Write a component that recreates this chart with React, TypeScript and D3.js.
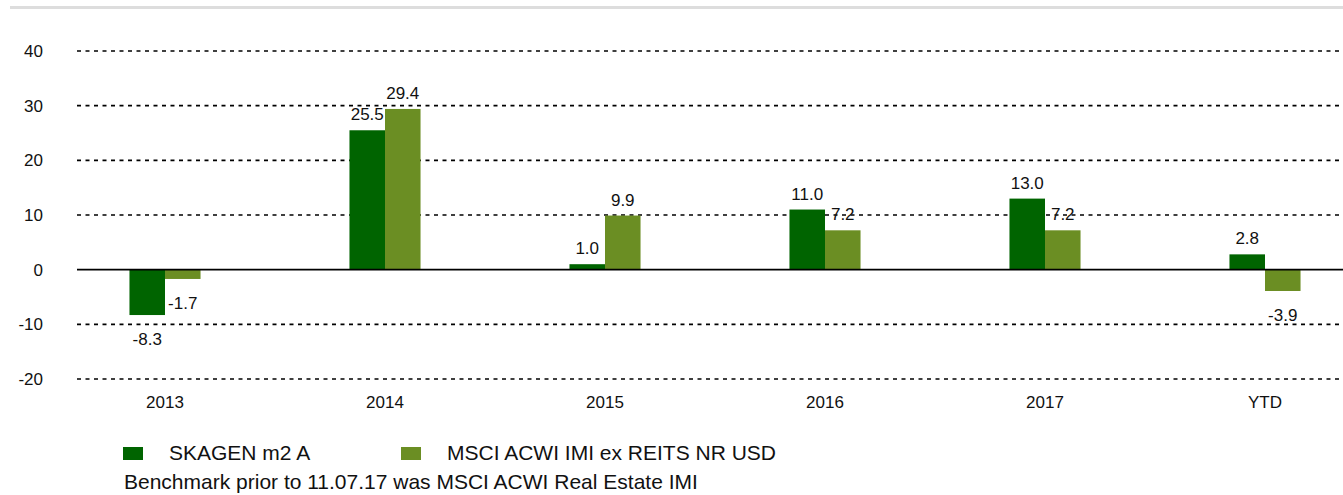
import React from "react";
import * as d3 from "d3";

const categories = ["2013", "2014", "2015", "2016", "2017", "YTD"];
const seriesNames = ["SKAGEN m2 A", "MSCI ACWI IMI ex REITS NR USD"];
const fundValues = [-8.3, 25.5, 1.0, 11.0, 13.0, 2.8];
const benchValues = [-1.7, 29.4, 9.9, 7.2, 7.2, -3.9];
const colors = ["#006400", "#6B8E23"];
const yTicks = [-20, -10, 0, 10, 20, 30, 40];
const footnote = "Benchmark prior to 11.07.17 was MSCI ACWI Real Estate IMI";

const W = 1343;
const H = 495;
const FONT = "Liberation Sans, Arial, Helvetica, sans-serif";

export default function App() {
  const x = d3
    .scaleBand<string>()
    .domain(categories)
    .range([55, 1375])
    .paddingInner(0.677)
    .paddingOuter(0.677 / 2);
  const x1 = d3
    .scaleBand<string>()
    .domain(seriesNames)
    .range([0, x.bandwidth()]);
  const y = d3.scaleLinear().domain([-20, 40]).range([379, 51]);
  const series = [fundValues, benchValues];

  return (
    <svg
      width={W}
      height={H}
      style={{ position: "absolute", left: 0, top: 0, display: "block", background: "#fff" }}
      fontFamily={FONT}
    >
      <line x1={10} x2={W} y1={7.5} y2={7.5} stroke="#dddddd" strokeWidth={3} />
      {yTicks.map((t) => (
        <g key={t}>
          {t !== 0 && (
            <line
              x1={77}
              x2={W}
              y1={y(t)}
              y2={y(t)}
              stroke="#000"
              strokeWidth={1.6}
              strokeDasharray="4,4.5"
            />
          )}
          <text
            x={43}
            y={y(t)}
            dy="0.35em"
            textAnchor="end"
            fontSize={17}
            fill="#111"
          >
            {t}
          </text>
        </g>
      ))}
      {series.map((vals, si) =>
        vals.map((v, i) => {
          const bx = (x(categories[i]) as number) + (x1(seriesNames[si]) as number);
          const bw = x1.bandwidth();
          const y0 = y(0);
          const yv = y(v);
          const top = Math.min(y0, yv);
          const h = Math.abs(yv - y0);
          return (
            <g key={si + "-" + i}>
              <rect x={bx} y={top} width={bw} height={h} fill={colors[si]} />
            </g>
          );
        })
      )}
      <line x1={77} x2={W} y1={y(0)} y2={y(0)} stroke="#000" strokeWidth={1.6} />
      {series.map((vals, si) =>
        vals.map((v, i) => {
          const bx = (x(categories[i]) as number) + (x1(seriesNames[si]) as number);
          const bw = x1.bandwidth();
          const yv = y(v);
          const ly = v >= 0 ? yv - 10 : yv + 30;
          return (
            <text
              key={"l" + si + "-" + i}
              x={bx + bw / 2}
              y={ly}
              textAnchor="middle"
              fontSize={17}
              fill="#111"
            >
              {v.toFixed(1)}
            </text>
          );
        })
      )}
      {categories.map((c) => (
        <text
          key={c}
          x={(x(c) as number) + x.bandwidth() / 2}
          y={408}
          textAnchor="middle"
          fontSize={17}
          fill="#111"
        >
          {c}
        </text>
      ))}
      {seriesNames.map((s, i) => {
        const lx = i === 0 ? 123 : 401;
        return (
          <g key={s}>
            <rect x={lx} y={447} width={20} height={13} fill={colors[i]} />
            <text x={lx + 46} y={460} fontSize={21} fill="#111">
              {s}
            </text>
          </g>
        );
      })}
      <text x={124} y={489} fontSize={21} fill="#111">
        {footnote}
      </text>
    </svg>
  );
}
